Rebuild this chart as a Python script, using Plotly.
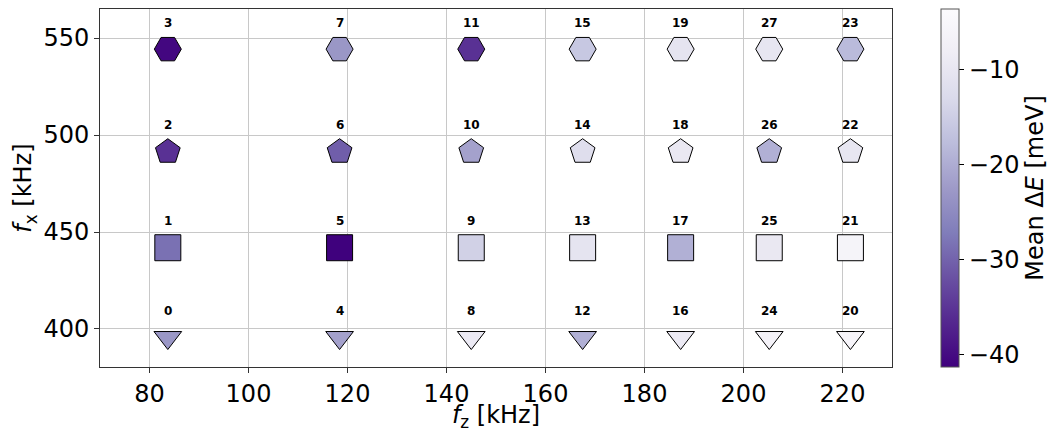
import plotly.graph_objects as go

# ---- data ----
fz_values = [83.7, 118.4, 145.0, 167.5, 187.3, 205.2, 221.6]   # kHz
fx_values = [395.6, 441.9, 491.4, 544.3]                       # kHz

ids_400 = [0, 4, 8, 12, 16, 24, 20]
ids_450 = [1, 5, 9, 13, 17, 25, 21]
ids_500 = [2, 6, 10, 14, 18, 26, 22]
ids_550 = [3, 7, 11, 15, 19, 27, 23]

dE_400 = [-23.0, -21.5, -9.0, -19.5, -9.0, -6.5, -5.5]
dE_450 = [-28.5, -41.2, -14.5, -10.5, -19.5, -9.5, -6.0]
dE_500 = [-35.5, -30.5, -21.5, -12.0, -9.5, -19.5, -10.0]
dE_550 = [-40.5, -23.0, -35.5, -16.0, -10.5, -10.0, -18.0]

x_ticks = [80, 100, 120, 140, 160, 180, 200, 220]
y_ticks = [400, 450, 500, 550]
cbar_ticks = [-10, -20, -30, -40]

rows = [
    (fx_values[0], ids_400, dE_400, "triangle-down", 24),
    (fx_values[1], ids_450, dE_450, "square", 26),
    (fx_values[2], ids_500, dE_500, "pentagon", 26),
    (fx_values[3], ids_550, dE_550, "hexagon2", 27),
]

purples_r = [
    [0.0, "rgb(63,0,125)"], [0.125, "rgb(84,39,143)"], [0.25, "rgb(106,81,163)"],
    [0.375, "rgb(128,125,186)"], [0.5, "rgb(158,154,200)"], [0.625, "rgb(188,189,220)"],
    [0.75, "rgb(218,218,235)"], [0.875, "rgb(239,237,245)"], [1.0, "rgb(252,251,253)"],
]
CMIN, CMAX = -41.3, -3.6

xs, ys, cs, syms, sizes, labels = [], [], [], [], [], []
for fx, ids, dE, sym, sz in rows:
    for fz, i, e in zip(fz_values, ids, dE):
        xs.append(fz); ys.append(fx); cs.append(e)
        syms.append(sym); sizes.append(sz); labels.append(str(i))

FONT = "DejaVu Sans"
FS = 24
fig = go.Figure()
fig.add_trace(go.Scatter(
    x=xs, y=ys, mode="markers",
    marker=dict(
        symbol=syms, size=sizes, color=cs, colorscale=purples_r,
        cmin=CMIN, cmax=CMAX, opacity=1,
        line=dict(color="black", width=1),
        colorbar=dict(
            x=1.062, xanchor="left", y=0.5, yanchor="middle", len=1.0,
            lenmode="fraction", thickness=18, ypad=0, xpad=0,
            outlinewidth=1, outlinecolor="#555555",
            tickvals=cbar_ticks, ticks="outside", ticklen=5, tickcolor="black",
            tickfont=dict(family=FONT, size=FS, color="black"),
            title=dict(text="Mean Δ<i>E</i> [meV]", side="right",
                       font=dict(family=FONT, size=FS, color="black")),
        ),
    ),
    showlegend=False, hoverinfo="skip",
))

for x, y, t in zip(xs, ys, labels):
    fig.add_annotation(x=x, y=y, text=f"<b>{t}</b>", showarrow=False,
                       yshift=26.5, xanchor="center", yanchor="middle",
                       font=dict(family=FONT, size=12, color="black"))

axis_common = dict(
    showgrid=True, gridcolor="#c8c8c8", gridwidth=1,
    showline=True, linecolor="#333333", linewidth=1, mirror=True,
    ticks="outside", ticklen=5, tickcolor="#333333",
    tickfont=dict(family=FONT, size=FS, color="black"),
    zeroline=False, automargin=False,
)
fig.update_xaxes(range=[70, 230], tickvals=x_ticks,
                 title=dict(text="<i>f</i><sub>z</sub> [kHz]", standoff=2,
                            font=dict(family=FONT, size=FS, color="black")),
                 **axis_common)
fig.update_yaxes(range=[380.4, 565], tickvals=y_ticks,
                 title=dict(text="<i>f</i><sub>x</sub> [kHz]", standoff=4,
                            font=dict(family=FONT, size=FS, color="black")),
                 **axis_common)

fig.update_layout(
    width=1056, height=432,
    margin=dict(l=100, r=164, t=9, b=65, autoexpand=False),
    paper_bgcolor="white", plot_bgcolor="white",
    font=dict(family=FONT, color="black"),
)

fig.write_html("out.html", config={"displayModeBar": False},
               post_script="document.body.style.margin='0px';document.body.style.overflow='hidden';")
